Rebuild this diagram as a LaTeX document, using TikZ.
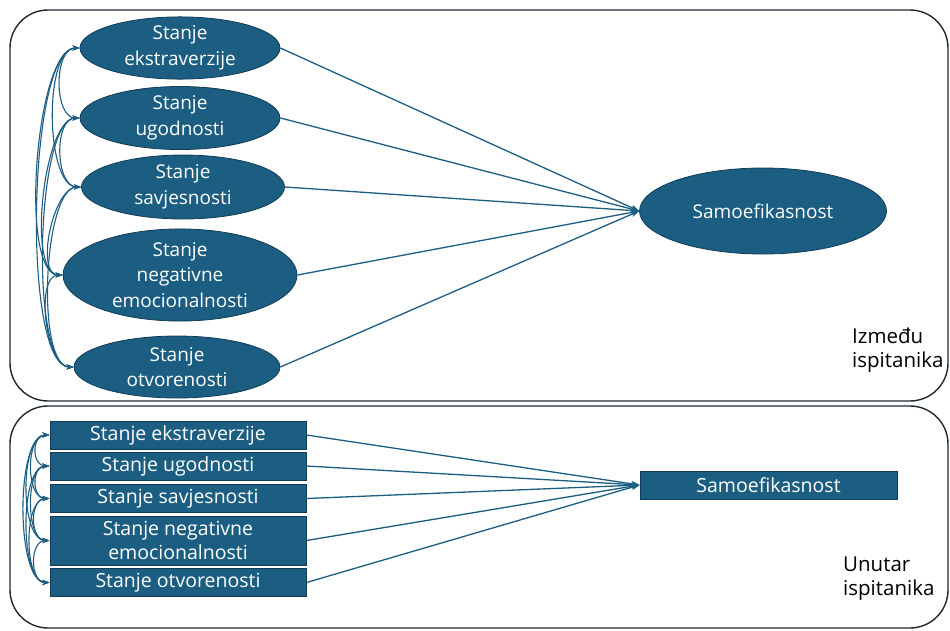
\documentclass[tikz,border=0pt]{standalone}
\usepackage{fontspec}
\setmainfont{Open Sans}
\usetikzlibrary{shapes.geometric,arrows.meta}
\definecolor{teal}{RGB}{28,94,130}
\definecolor{tealdark}{RGB}{16,60,86}
\definecolor{framec}{RGB}{30,40,48}
\tikzset{
  oval/.style={ellipse,fill=teal,draw=tealdark,line width=0.8pt,text=white,align=center,inner sep=0pt,font=\fontsize{19}{25.5}\selectfont},
  rbox/.style={rectangle,fill=teal,draw=tealdark,line width=1pt,text=white,align=center,inner sep=0pt,minimum width=256pt,font=\fontsize{19.5}{23.5}\selectfont},
  path1/.style={draw=teal,line width=1.3pt,-{Stealth[length=8pt,width=6pt]}},
  cov/.style={draw=teal,line width=1.1pt,{Stealth[length=7pt,width=5pt]}-{Stealth[length=7pt,width=5pt]}},
  frame/.style={draw=framec,line width=1.4pt,rounded corners=38pt},
  lab/.style={align=left,text=black,font=\fontsize{20.5}{24}\selectfont,inner sep=0pt}
}
\begin{document}
\begin{tikzpicture}[x=1pt,y=-1pt]
\useasboundingbox (0,0) rectangle (950,630);
\draw[frame] (10,10) rectangle (948,401);
\draw[frame] (10,406) rectangle (948,628);
% top ellipses
\node[oval,minimum width=200pt,minimum height=62pt] (e1) at (180,48) {Stanje\\ekstraverzije};
\node[oval,minimum width=200pt,minimum height=63pt] (e2) at (180,118) {Stanje\\ugodnosti};
\node[oval,minimum width=203pt,minimum height=64pt] (e3) at (183,187) {Stanje\\savjesnosti};
\node[oval,minimum width=234pt,minimum height=92pt] (e4) at (180,275) {Stanje\\negativne\\emocionalnosti};
\node[oval,minimum width=206pt,minimum height=62pt] (e5) at (177,367) {Stanje\\otvorenosti};
\node[oval,minimum width=247pt,minimum height=86pt] (es) at (763,211) {Samoefikasnost};
\foreach \i in {1,...,5} \draw[path1] (e\i.east) -- (es.west);
% top covariances
\foreach \a/\b/\d in {1/2/26,2/3/26,3/4/28,4/5/28,1/3/36,2/4/36,3/5/38,1/4/44,2/5/44,1/5/52}
  \draw[cov] (e\a.west) .. controls +(-\d,0) and +(-\d,0) .. (e\b.west);
% labels
\node[lab,anchor=north west] (l1) at (852,328) {Između\\ispitanika};
% bottom boxes
\node[rbox,minimum height=28pt] (r1) at (178,435) {Stanje ekstraverzije};
\node[rbox,minimum height=28pt] (r2) at (178,466) {Stanje ugodnosti};
\node[rbox,minimum height=28pt] (r3) at (178,498.5) {Stanje savjesnosti};
\node[rbox,minimum height=49pt] (r4) at (178,540.5) {Stanje negativne\\emocionalnosti};
\node[rbox,minimum height=28pt] (r5) at (178,582.5) {Stanje otvorenosti};
\node[rbox,minimum width=257pt,minimum height=28pt] (rs) at (768.5,485) {Samoefikasnost};
\foreach \i in {1,...,5} \draw[path1] (r\i.east) -- (rs.west);
\foreach \a/\b/\d in {1/2/18,2/3/18,3/4/20,4/5/20,1/3/24,2/4/24,3/5/26,1/4/30,2/5/30,1/5/34}
  \draw[cov] (r\a.west) .. controls +(-\d,0) and +(-\d,0) .. (r\b.west);
\node[lab,anchor=north west] (l2) at (843,557) {Unutar\\ispitanika};
\end{tikzpicture}
\end{document}
